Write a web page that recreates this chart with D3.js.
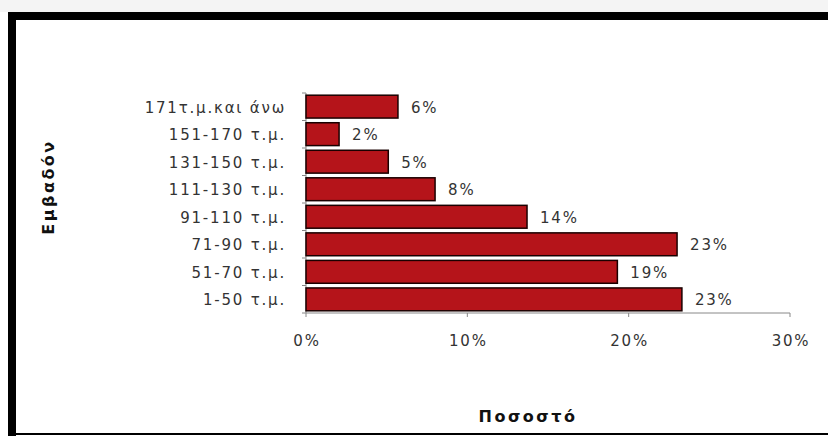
<!DOCTYPE html>
<html lang="el">
<head>
  <meta charset="UTF-8">
  <title>Εμβαδόν - Ποσοστό</title>
  <script src="https://d3js.org/d3.v7.min.js"></script>
  <style>
    body { margin: 0; background: #fff; }
    .cat-label, .val-label, .tick-label {
      font-family: "DejaVu Sans", sans-serif;
      font-size: 15px;
      letter-spacing: 1.8px;
      fill: #333;
    }
    .axis-title {
      font-family: "DejaVu Sans", sans-serif;
      font-size: 16px;
      font-weight: bold;
      letter-spacing: 2.5px;
      fill: #111;
    }
  </style>
</head>
<body>
  <svg id="chart" width="828" height="436"></svg>
  <script>
    // κατηγορίες από πάνω προς τα κάτω
    const categories = ["171τ.μ.και άνω", "151-170 τ.μ.", "131-150 τ.μ.", "111-130 τ.μ.",
                        "91-110 τ.μ.", "71-90 τ.μ.", "51-70 τ.μ.", "1-50 τ.μ."];
    const values = [5.7, 2.05, 5.1, 8.0, 13.7, 23.0, 19.3, 23.3];
    const valueLabels = ["6%", "2%", "5%", "8%", "14%", "23%", "19%", "23%"];
    const xTicks = [0, 10, 20, 30];
    const xTickLabels = ["0%", "10%", "20%", "30%"];

    const svg = d3.select("#chart");

    // πλαίσιο
    svg.append("rect").attr("x", 0).attr("y", 0).attr("width", 828).attr("height", 12).attr("fill", "#f4f4f4");
    svg.append("rect").attr("x", 8).attr("y", 12).attr("width", 820).attr("height", 8).attr("fill", "#000");
    svg.append("rect").attr("x", 8).attr("y", 12).attr("width", 8).attr("height", 424).attr("fill", "#000");
    svg.append("rect").attr("x", 8).attr("y", 433).attr("width", 820).attr("height", 2).attr("fill", "#000");

    const x = d3.scaleLinear().domain([0, 30]).range([306, 790]);
    const y = d3.scaleBand().domain(categories).range([93, 313]).paddingInner(0.17).paddingOuter(0.08);

    // άξονας y
    svg.append("line").attr("x1", 306).attr("x2", 306).attr("y1", 93).attr("y2", 313)
      .attr("stroke", "#888").attr("stroke-width", 1);
    const yEdges = d3.range(categories.length + 1).map(i => 93 + i * (220 / categories.length));
    svg.selectAll(".ytick").data(yEdges).enter().append("line")
      .attr("x1", 302).attr("x2", 306).attr("y1", d => d).attr("y2", d => d)
      .attr("stroke", "#888");

    // άξονας x
    svg.append("line").attr("x1", x(0)).attr("x2", x(30)).attr("y1", 313).attr("y2", 313)
      .attr("stroke", "#888").attr("stroke-width", 1);
    svg.selectAll(".xtick").data(xTicks).enter().append("line")
      .attr("x1", d => x(d)).attr("x2", d => x(d)).attr("y1", 313).attr("y2", 317)
      .attr("stroke", "#888");
    svg.selectAll(".tick-label").data(xTicks).enter().append("text")
      .attr("class", "tick-label")
      .attr("x", d => x(d) + 1).attr("y", 346)
      .attr("text-anchor", "middle")
      .text((d, i) => xTickLabels[i]);

    // μπάρες
    svg.selectAll(".bar").data(values).enter().append("rect")
      .attr("x", x(0))
      .attr("y", (d, i) => y(categories[i]))
      .attr("width", d => x(d) - x(0))
      .attr("height", y.bandwidth())
      .attr("fill", "#b5141a")
      .attr("stroke", "#1a0000")
      .attr("stroke-width", 1.5);

    svg.selectAll(".val-label").data(values).enter().append("text")
      .attr("class", "val-label")
      .attr("x", d => x(d) + 13)
      .attr("y", (d, i) => y(categories[i]) + y.bandwidth() / 2 + 6)
      .text((d, i) => valueLabels[i]);

    svg.selectAll(".cat-label").data(categories).enter().append("text")
      .attr("class", "cat-label")
      .attr("x", 286)
      .attr("y", d => y(d) + y.bandwidth() / 2 + 6)
      .attr("text-anchor", "end")
      .text(d => d);

    // τίτλοι αξόνων
    svg.append("text").attr("class", "axis-title")
      .attr("x", 528).attr("y", 422)
      .attr("text-anchor", "middle")
      .text("Ποσοστό");
    svg.append("text").attr("class", "axis-title")
      .attr("transform", "translate(54,187) rotate(-90)")
      .attr("text-anchor", "middle")
      .text("Εμβαδόν");
  </script>
</body>
</html>
